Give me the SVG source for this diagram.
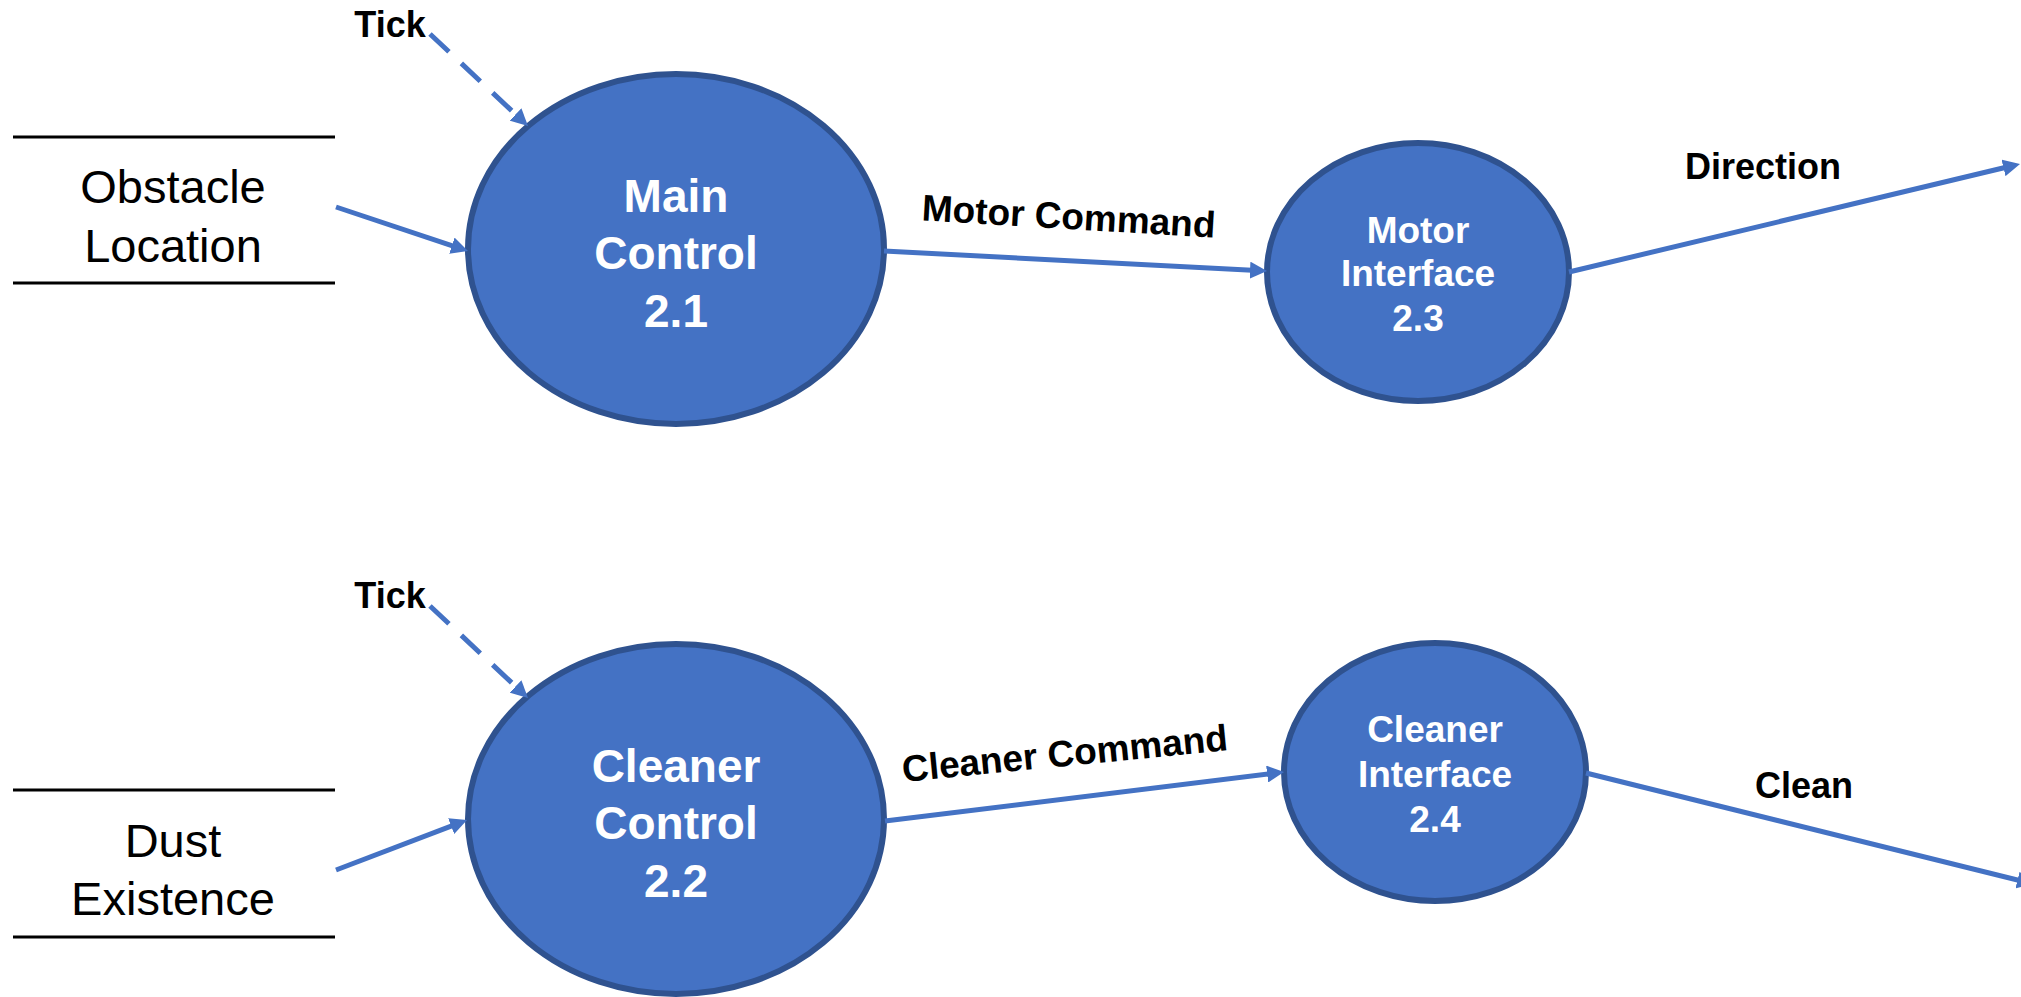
<svg xmlns="http://www.w3.org/2000/svg" width="2021" height="997" viewBox="0 0 2021 997">
  <style>
    .proc { fill: #4472C4; stroke: #2F528F; stroke-width: 6; }
    .ptext { font-family: "Liberation Sans", Arial, sans-serif; font-weight: bold; fill: #FFFFFF; text-anchor: middle; }
    .big { font-size: 46px; }
    .small { font-size: 37px; }
    .store { stroke: #000000; stroke-width: 3; }
    .stext { font-family: "Liberation Sans", Arial, sans-serif; font-size: 47px; fill: #000000; text-anchor: middle; }
    .flow { fill: none; stroke: #4472C4; stroke-width: 5; marker-end: url(#arr); }
    .dash { stroke-dasharray: 26 17; }
    .label { font-family: "Liberation Sans", Arial, sans-serif; font-weight: bold; font-size: 36px; fill: #000000; text-anchor: middle; }
  </style>
  <defs>
    <marker id="arr" markerUnits="userSpaceOnUse" markerWidth="17" markerHeight="17" refX="7" refY="8.5" orient="auto">
      <path d="M0,0 L17,8.5 L0,17 z" fill="#4472C4"/>
    </marker>
  </defs>
  <rect width="2021" height="997" fill="#FFFFFF"/>

  <g id="store-obstacle-location">
    <line class="store" x1="13" y1="137" x2="335" y2="137"/>
    <line class="store" x1="13" y1="283" x2="335" y2="283"/>
    <text class="stext" x="173" y="203">Obstacle</text>
    <text class="stext" x="173" y="262">Location</text>
  </g>

  <g id="store-dust-existence">
    <line class="store" x1="13" y1="790" x2="335" y2="790"/>
    <line class="store" x1="13" y1="937" x2="335" y2="937"/>
    <text class="stext" x="173" y="857">Dust</text>
    <text class="stext" x="173" y="915">Existence</text>
  </g>

  <g id="node-main-control">
    <ellipse class="proc" cx="676" cy="249" rx="208" ry="175"/>
    <text class="ptext big" x="676" y="212">Main</text>
    <text class="ptext big" x="676" y="269">Control</text>
    <text class="ptext big" x="676" y="327">2.1</text>
  </g>

  <g id="node-cleaner-control">
    <ellipse class="proc" cx="676" cy="819" rx="208" ry="175"/>
    <text class="ptext big" x="676" y="782">Cleaner</text>
    <text class="ptext big" x="676" y="839">Control</text>
    <text class="ptext big" x="676" y="897">2.2</text>
  </g>

  <g id="node-motor-interface">
    <ellipse class="proc" cx="1418" cy="272" rx="151" ry="129"/>
    <text class="ptext small" x="1418" y="243">Motor</text>
    <text class="ptext small" x="1418" y="286">Interface</text>
    <text class="ptext small" x="1418" y="331">2.3</text>
  </g>

  <g id="node-cleaner-interface">
    <ellipse class="proc" cx="1435" cy="772" rx="151" ry="129"/>
    <text class="ptext small" x="1435" y="742">Cleaner</text>
    <text class="ptext small" x="1435" y="787">Interface</text>
    <text class="ptext small" x="1435" y="832">2.4</text>
  </g>

  <g id="connectors">
    <path class="flow dash" d="M430,34 L520.7,119.2"/>
    <path class="flow dash" d="M430,606 L520.7,691.2"/>
    <path class="flow" d="M336,207 L458.5,247.8"/>
    <path class="flow" d="M336,870 L457.7,823.6"/>
    <path class="flow" d="M884,251 L1257,270.5"/>
    <path class="flow" d="M1569,272 L2010.3,166.3"/>
    <path class="flow" d="M885,821 L1274.1,773.2"/>
    <path class="flow" d="M1586,773 L2024.3,881.7"/>

    <text class="label" x="390" y="37">Tick</text>
    <text class="label" x="390" y="608">Tick</text>
    <text class="label" style="font-size:37px" x="1068" y="229" transform="rotate(3.4 1068 229)">Motor Command</text>
    <text class="label" x="1763" y="179">Direction</text>
    <text class="label" style="font-size:37px" x="1066" y="766" transform="rotate(-5.6 1066 766)">Cleaner Command</text>
    <text class="label" x="1804" y="798">Clean</text>
  </g>
</svg>
